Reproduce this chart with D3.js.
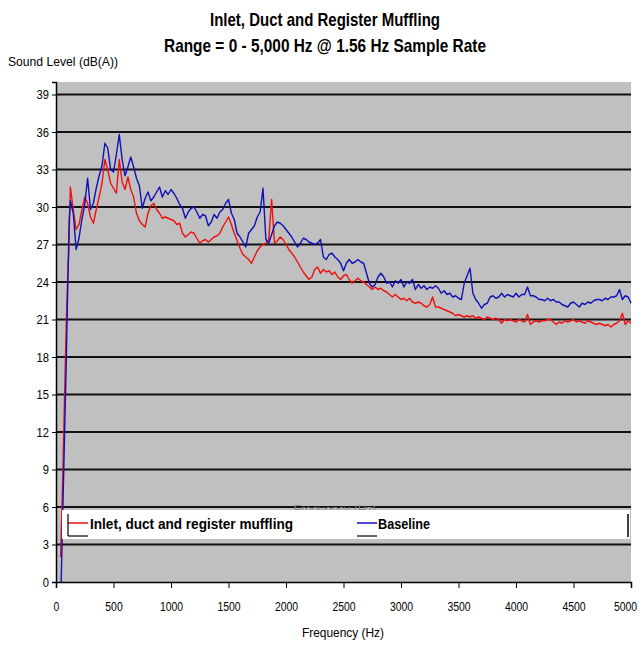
<!DOCTYPE html>
<html>
<head>
<meta charset="utf-8">
<script src="https://cdn.jsdelivr.net/npm/d3@7"></script>
<style>
  body { margin: 0; background: #fff; }
  text { font-family: "Liberation Sans Narrow", "Arial Narrow", "Liberation Sans", sans-serif; }
  .axis path, .axis line { stroke: #000; }
  .axis text { font-size: 13px; fill: #000; }
</style>
</head>
<body>
<script>
const width = 644;
const height = 653;

const titleLines = ['Inlet, Duct and Register Muffling', 'Range = 0 - 5,000 Hz @ 1.56 Hz Sample Rate'];
const seriesNames = ['Inlet, duct and register muffling', 'Baseline'];
const xTicks = [0, 500, 1000, 1500, 2000, 2500, 3000, 3500, 4000, 4500, 5000];
const yTicks = [0, 3, 6, 9, 12, 15, 18, 21, 24, 27, 30, 33, 36, 39];

// steep rise at the bottom end of the spectrum
const lowFreq = [40, 55, 70, 85, 100, 110, 125];
const lowMuffled = [2, 7, 13, 19, 24, 26, 31.6];
const lowBaselineFreq = [45, 60, 75, 90, 105, 115, 125];
const lowBaseline = [0, 6, 12, 18, 25, 29, 30.5];

// main sweep, 150 Hz to 5000 Hz every 25 Hz
const sweepStart = 150;
const sweepStep = 25;

const muffled = [
  29.8, 28.2, 28.6, 29.8, 30.8, 30.3, 29.2, 28.7, 29.8, 30.8,
  31.9, 33.8, 33.0, 31.9, 31.5, 31.1, 33.8, 32.0, 31.4, 32.4,
  31.4, 30.8, 29.5, 28.9, 28.6, 28.4, 29.5, 30.1, 30.3, 29.8,
  29.5, 29.1, 29.2, 29.1, 29.0, 28.9, 28.6, 28.7, 27.9, 27.6,
  27.8, 28.0, 27.9, 27.5, 27.1, 27.3, 27.4, 27.2, 27.4, 27.6,
  27.7, 27.9, 28.4, 28.8, 29.2, 28.6, 27.9, 27.3, 26.7, 26.2,
  26.0, 25.8, 25.5, 26.0, 26.5, 26.8, 27.0, 27.1, 27.4, 30.6,
  27.1, 27.3, 27.6, 27.4, 27.0, 26.6, 26.3, 26.0, 25.6, 25.2,
  24.8, 24.5, 24.2, 24.4, 25.0, 25.2, 24.7, 25.0, 24.8, 24.9,
  24.6, 24.8, 24.4, 24.2, 24.5, 24.6, 24.2, 23.9, 24.1, 24.3,
  24.1, 24.0, 23.8, 23.6, 23.4, 23.6, 23.4, 23.5, 23.3, 23.2,
  23.0, 22.8, 23.0, 22.8, 22.6, 22.7, 22.5, 22.7, 22.4, 22.3,
  22.4, 22.3, 22.1, 22.0, 22.2, 22.8, 22.0, 22.0, 21.9, 21.8,
  21.7, 21.6, 21.5, 21.3, 21.4, 21.3, 21.2, 21.3, 21.2, 21.3,
  21.1, 21.2, 21.1, 21.0, 21.2, 21.1, 21.0, 21.1, 21.0, 20.7,
  21.0, 20.9, 21.0, 20.9, 20.8, 21.0, 20.9, 20.8, 21.4, 20.6,
  20.8, 20.9, 20.8, 20.9, 20.9, 21.0, 21.0, 20.8, 20.6, 20.8,
  20.7, 20.9, 20.8, 20.9, 21.0, 20.8, 20.9, 20.8, 20.7, 20.9,
  20.8, 20.7, 20.6, 20.7, 20.6, 20.5, 20.6, 20.4, 20.6, 20.7,
  20.9, 21.5, 20.6, 20.9, 20.7
];

const baseline = [
  29.5, 26.6, 27.5, 29.0, 30.2, 32.3, 29.8, 30.3, 31.5, 32.5,
  33.3, 35.1, 34.7, 33.0, 32.8, 34.2, 35.8, 33.8, 32.5, 33.2,
  34.0, 33.2, 32.3, 31.7, 29.9, 30.7, 31.2, 30.5, 30.8, 31.2,
  31.6, 30.8, 31.3, 31.0, 31.4, 31.1, 30.7, 30.2, 29.9, 29.1,
  29.6, 29.9, 30.0, 29.6, 29.1, 29.4, 29.3, 28.5, 28.8, 29.4,
  29.1, 29.6, 29.8, 30.3, 30.6, 29.5, 29.0, 27.9, 27.6, 27.2,
  26.8, 27.9, 28.2, 28.5, 29.2, 29.6, 31.5, 27.4, 27.1, 27.8,
  28.5, 28.8, 28.7, 28.5, 28.2, 27.9, 27.6, 27.2, 26.8, 27.1,
  27.5, 27.4, 27.2, 27.1, 27.0, 27.1, 27.4, 26.0, 25.8, 26.2,
  26.3, 26.0, 25.8, 25.5, 24.9, 25.5, 25.8, 25.5, 25.6, 25.8,
  25.6, 25.5, 24.7, 23.9, 23.6, 23.8, 24.4, 24.7, 24.4, 23.9,
  24.0, 23.6, 24.1, 23.9, 24.2, 23.6, 24.0, 23.9, 24.2, 23.4,
  23.8, 23.5, 23.7, 23.4, 23.6, 23.5, 23.7, 23.5, 23.1, 23.3,
  23.0, 23.1, 22.8, 22.9, 22.7, 22.6, 23.9, 24.5, 25.1, 23.1,
  22.6, 22.3, 21.9, 22.2, 22.3, 22.8, 22.9, 22.7, 22.8, 23.1,
  22.8, 23.0, 22.9, 22.8, 23.1, 22.8, 23.0, 23.0, 23.6, 22.9,
  22.9, 22.8, 22.6, 22.6, 22.5, 22.7, 22.5, 22.6, 22.4, 22.4,
  22.2, 22.1, 22.0, 22.3, 22.4, 22.2, 22.0, 22.3, 22.2, 22.4,
  22.3, 22.5, 22.6, 22.6, 22.5, 22.7, 22.6, 22.8, 22.8, 22.9,
  23.4, 22.6, 22.9, 22.8, 22.3
];

const colors = ['#f01010', '#1010b8'];

const sweep = values => values.map((v, i) => [sweepStart + i * sweepStep, v]);
const muffledPts = lowFreq.map((f, i) => [f, lowMuffled[i]]).concat(sweep(muffled));
const baselinePts = lowBaselineFreq.map((f, i) => [f, lowBaseline[i]]).concat(sweep(baseline));

const x = d3.scaleLinear()
  .domain([0, 5000])
  .range([56, 631]);

const y = d3.scaleLinear()
  .domain([0, 40])
  .range([582, 82]);

const svg = d3.select('body').append('svg')
  .attr('width', width)
  .attr('height', height);

svg.append('rect')
  .attr('x', x(0))
  .attr('y', y(40))
  .attr('width', x(5000) - x(0))
  .attr('height', y(0) - y(40))
  .attr('fill', '#c0c0c0');

svg.append('g')
  .selectAll('line')
  .data(yTicks.filter(d => d > 0))
  .join('line')
  .attr('x1', x(0))
  .attr('x2', x(5000))
  .attr('y1', d => y(d))
  .attr('y2', d => y(d))
  .attr('stroke', '#111')
  .attr('stroke-width', 2);

const line = d3.line()
  .x(d => x(d[0]))
  .y(d => y(d[1]));

[muffledPts, baselinePts].forEach((pts, i) => {
  svg.append('path')
    .datum(pts)
    .attr('fill', 'none')
    .attr('stroke', colors[i])
    .attr('stroke-width', 1.4)
    .attr('stroke-linejoin', 'round')
    .attr('d', line);
});

// squeeze text to look like the narrow font of the original
const narrow = (sel, perChar) => sel
  .attr('textLength', function() { return this.textContent.length * perChar; })
  .attr('lengthAdjust', 'spacingAndGlyphs');

svg.append('g')
  .attr('class', 'axis')
  .attr('transform', `translate(0,${y(0)})`)
  .call(d3.axisBottom(x).tickValues(xTicks).tickSize(6).tickPadding(14).tickFormat(d3.format('d')))
  .selectAll('text')
  .style('font-size', '12px')
  .call(narrow, 5.8)
  .attr('dx', d => d === 5000 ? -6 : 0);

svg.append('g')
  .attr('class', 'axis')
  .attr('transform', `translate(${x(0)},0)`)
  .call(d3.axisLeft(y).tickValues(yTicks).tickSize(4).tickPadding(3).tickFormat(d3.format('d')))
  .selectAll('text')
  .call(narrow, 6.2);

svg.selectAll('.axis .domain')
  .attr('stroke-width', 1.5);

// faint axis title hiding behind the legend, as in the original
svg.append('text')
  .attr('x', 335)
  .attr('y', 514)
  .attr('text-anchor', 'middle')
  .attr('font-size', 12)
  .attr('fill', '#8a8a8a')
  .text('Frequency (Hz)');

// legend
const legend = svg.append('g');

legend.append('rect')
  .attr('x', 62)
  .attr('y', 510)
  .attr('width', 568)
  .attr('height', 29)
  .attr('fill', '#fff');

legend.append('line')
  .attr('x1', 628).attr('x2', 628)
  .attr('y1', 514).attr('y2', 537)
  .attr('stroke', '#000')
  .attr('stroke-width', 1.5);

const keys = [{ x: 68, tx: 90, w: 203 }, { x: 357, tx: 378, w: 52 }];

keys.forEach((k, i) => {
  legend.append('line')
    .attr('x1', k.x).attr('x2', k.x + 20)
    .attr('y1', 523).attr('y2', 523)
    .attr('stroke', colors[i])
    .attr('stroke-width', 1.5);
  legend.append('line')
    .attr('x1', k.x).attr('x2', k.x + 20)
    .attr('y1', 536).attr('y2', 536)
    .attr('stroke', '#000')
    .attr('stroke-width', 1.2);
  legend.append('text')
    .attr('x', k.tx)
    .attr('y', 529)
    .attr('font-size', 15)
    .attr('font-weight', 'bold')
    .attr('textLength', k.w)
    .attr('lengthAdjust', 'spacingAndGlyphs')
    .text(seriesNames[i]);
});

legend.append('line')
  .attr('x1', 68).attr('x2', 68)
  .attr('y1', 514).attr('y2', 536)
  .attr('stroke', '#000')
  .attr('stroke-width', 1.2);

const titleWidths = [230, 322];

svg.selectAll('.title')
  .data(titleLines)
  .join('text')
  .attr('class', 'title')
  .attr('x', 325)
  .attr('y', (d, i) => 26 + i * 26)
  .attr('text-anchor', 'middle')
  .attr('font-size', 19)
  .attr('font-weight', 'bold')
  .attr('textLength', (d, i) => titleWidths[i])
  .attr('lengthAdjust', 'spacingAndGlyphs')
  .text(d => d);

svg.append('text')
  .attr('x', 8)
  .attr('y', 66)
  .attr('font-size', 13)
  .attr('textLength', 110)
  .attr('lengthAdjust', 'spacingAndGlyphs')
  .text('Sound Level (dB(A))');

svg.append('text')
  .attr('x', 343)
  .attr('y', 637)
  .attr('text-anchor', 'middle')
  .attr('font-size', 13)
  .attr('textLength', 82)
  .attr('lengthAdjust', 'spacingAndGlyphs')
  .text('Frequency (Hz)');
</script>
</body>
</html>
